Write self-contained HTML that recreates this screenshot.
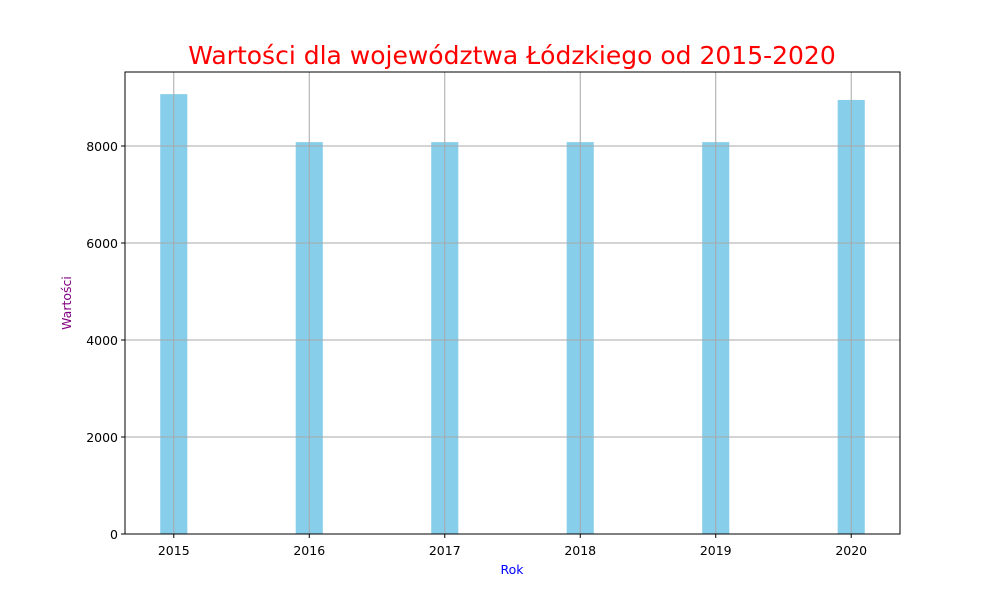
<!DOCTYPE html>
<html><head><meta charset="utf-8"><style>
body{margin:0;background:#fff;font-family:"DejaVu Sans","Liberation Sans",sans-serif;}
</style></head><body>
<svg id="chart" width="1000" height="600" xmlns="http://www.w3.org/2000/svg" font-family="DejaVu Sans, Liberation Sans, sans-serif">
<rect width="1000" height="600" fill="#fff"/>
<text x="512" y="64" text-anchor="middle" font-size="25" fill="red">Wartości dla województwa Łódzkiego od 2015-2020</text>
<g id="bars"></g><g id="grid"></g><g id="ticks"></g>
<rect x="125" y="72" width="775" height="462" fill="none" stroke="#000" stroke-width="1"/>
<text x="512" y="574" text-anchor="middle" font-size="12.5" fill="blue">Rok</text>
<text transform="translate(71,303) rotate(-90)" text-anchor="middle" font-size="12.5" fill="purple">Wartości</text>
</svg>
<script>
const years=[2015,2016,2017,2018,2019,2020];
const values=[9070,8080,8080,8080,8080,8950];
const yTicks=[0,2000,4000,6000,8000];
const ns="http://www.w3.org/2000/svg";
const L=125,R=900,T=72,B=534,xmin=2014.64,xmax=2020.36,ymax=9526;
const xs=v=>L+(v-xmin)/(xmax-xmin)*(R-L);
const ys=v=>B-v/ymax*(B-T);
function mk(tag,attrs,parent){const e=document.createElementNS(ns,tag);for(const k in attrs)e.setAttribute(k,attrs[k]);document.getElementById(parent).appendChild(e);return e;}
years.forEach((y,i)=>{
 const w=xs(y+0.1)-xs(y-0.1);
 const b=mk('rect',{x:xs(y-0.1),y:ys(values[i]),width:w,height:B-ys(values[i]),fill:'#87ceeb'},'bars');
 
 
 const g=mk('line',{x1:xs(y),x2:xs(y),y1:T,y2:B,stroke:'#a8a8a8','stroke-width':1},'grid');
 
 
 mk('line',{x1:xs(y),x2:xs(y),y1:B,y2:B+4,stroke:'#000'},'ticks');
 const t=mk('text',{x:xs(y),y:B+21,'text-anchor':'middle','font-size':12.5},'ticks');
 t.textContent=y;
 
 
});
yTicks.forEach(v=>{
 const g=mk('line',{x1:L,x2:R,y1:ys(v),y2:ys(v),stroke:'#a8a8a8','stroke-width':1},'grid');
 
 
 mk('line',{x1:L-4,x2:L,y1:ys(v),y2:ys(v),stroke:'#000'},'ticks');
 const t=mk('text',{x:L-7,y:ys(v)+5,'text-anchor':'end','font-size':12.5},'ticks');
 t.textContent=v;
 
 
});
</script>
</body></html>
